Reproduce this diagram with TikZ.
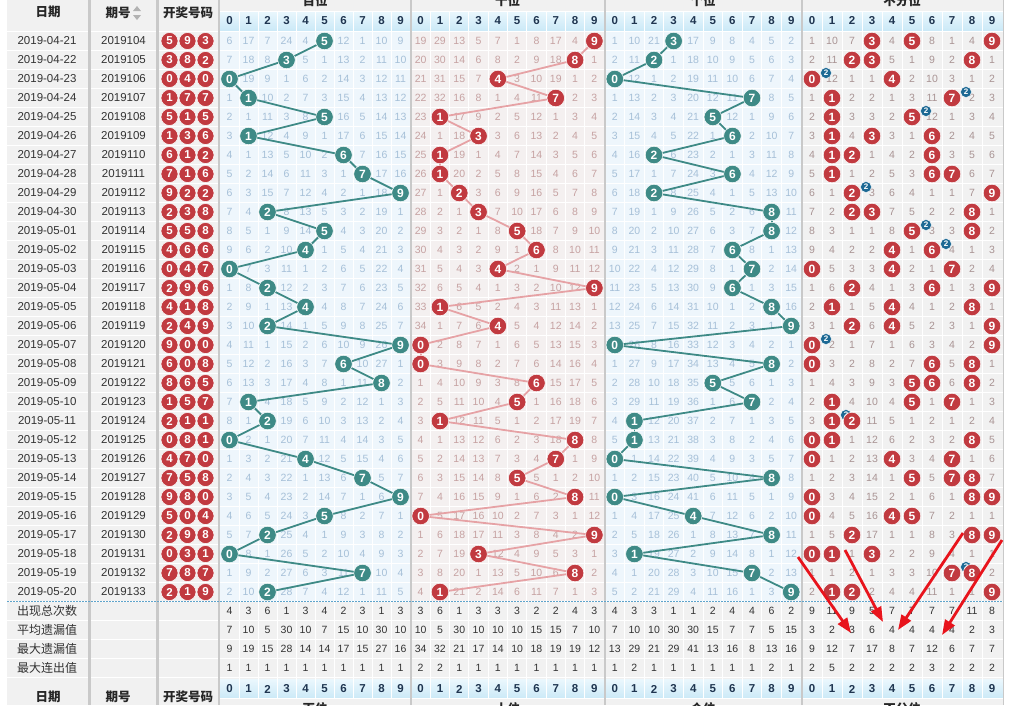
\documentclass[tikz,border=0pt]{standalone}
\usepackage{fontspec}
\setmainfont{Liberation Sans}
\newfontfamily\cjk{Noto Sans CJK SC}
\usetikzlibrary{arrows.meta}

\definecolor{tealBall}{HTML}{3E8A86}
\definecolor{redBall}{HTML}{C13A40}
\definecolor{pinkLine}{HTML}{E6A2A5}
\definecolor{blueCell}{HTML}{EEF6FC}
\definecolor{pinkCell}{HTML}{F4F0F0}
\definecolor{grayCell}{HTML}{F1F1F1}
\definecolor{blueNum}{HTML}{A6C0D8}
\definecolor{pinkNum}{HTML}{C6A2A2}
\definecolor{grayNum}{HTML}{A99494}
\definecolor{headTop}{HTML}{EAF7FD}
\definecolor{headBot}{HTML}{CBE9F7}
\definecolor{headDigit}{HTML}{1F3550}
\definecolor{sepGray}{HTML}{C9C9C9}
\definecolor{badgeBlue}{HTML}{1D6994}
\definecolor{dotBlue}{HTML}{5FA4CB}
\definecolor{noteRed}{HTML}{E8141C}

% trekkingen: honderdtal/tiental/eenheid/datum
\def\draws{
    5/9/3/04-21, 3/8/2/04-22, 0/4/0/04-23, 1/7/7/04-24, 5/1/5/04-25,
    1/3/6/04-26, 6/1/2/04-27, 7/1/6/04-28, 9/2/2/04-29, 2/3/8/04-30,
    5/5/8/05-01, 4/6/6/05-02, 0/4/7/05-03, 2/9/6/05-04, 4/1/8/05-05,
    2/4/9/05-06, 9/0/0/05-07, 6/0/8/05-08, 8/6/5/05-09, 1/5/7/05-10,
    2/1/1/05-11, 0/8/1/05-12, 4/7/0/05-13, 7/5/8/05-14, 9/8/0/05-15,
    5/0/4/05-16, 2/9/8/05-17, 0/3/1/05-18, 7/8/7/05-19, 2/1/9/05-20}

\begin{document}
\begin{tikzpicture}[
        x = 1pt, y = -1pt,
        ball/.style = {
            circle, inner sep = 0pt,
            minimum size = 17.5pt,
            draw = white, line width = 0.5pt,
            text = white,
            font = \bfseries\fontsize{12}{12}\selectfont,
        },
        drawn/.style = {
            ball, fill = redBall,
            minimum size = 17pt,
            font = \bfseries\fontsize{11.5}{11.5}\selectfont,
        },
        badge/.style = {
            circle, inner sep = 0pt,
            minimum size = 11pt,
            fill = badgeBlue, draw = white, line width = 0.4pt,
            text = white,
            font = \bfseries\fontsize{8}{8}\selectfont,
        },
        miss/.style = {inner sep = 0pt, font = \fontsize{10.5}{10.5}\selectfont},
        cell/.style = {inner sep = 0pt, text = black!80, font = \fontsize{10.5}{10.5}\selectfont},
        datecell/.style = {cell, font = \fontsize{11.5}{11.5}\selectfont},
        head/.style = {inner sep = 0pt, text = black!85, font = \cjk\bfseries\fontsize{12.5}{12.5}\selectfont},
        rowlabel/.style = {inner sep = 0pt, text = black!80, font = \cjk\fontsize{12}{12}\selectfont},
        digit/.style = {inner sep = 0pt, text = headDigit, font = \bfseries\fontsize{11.5}{11.5}\selectfont},
        trendline/.style = {line width = 1.8pt},
        note/.style = {draw = noteRed, line width = 2.8pt, -{Triangle[length = 15pt, width = 11pt]}},
    ]
    \useasboundingbox (0,0) rectangle (1011,705);

    % Achtergrond
    \fill[white] (0,0) rectangle (1011,705);
    \fill[grayCell] (7,0) rectangle (1003,705);
    \shade[top color = headTop, bottom color = headBot] (219,11) rectangle (1003,30.5);
    \shade[top color = headTop, bottom color = headBot] (219,679.5) rectangle (1003,698.5);
    \fill[blueCell] (219,31.5) rectangle (410,601.5);
    \fill[pinkCell] (410,31.5) rectangle (604,601.5);
    \fill[blueCell] (604,31.5) rectangle (801,601.5);
    \foreach \k in {0,...,34}
        \draw[white, line width = 1pt] (7,31.5+19*\k) -- (1003,31.5+19*\k);
    \draw[white, line width = 1pt] (219,11) -- (1003,11);
    \draw[white, line width = 1pt] (219,698.5) -- (1003,698.5);
    \foreach \xs/\w in {220/19, 411/19.3, 605/19.6, 802/20}
        \foreach \j in {1,...,9}
            \draw[white, line width = 1pt] ({\xs+\j*\w},11) -- ({\xs+\j*\w},698.5);
    \foreach \xl/\lw in {89.5/3, 157/3, 219/2.5, 410.5/2, 604.5/2, 801.5/2, 1003/1}
        \draw[sepGray, line width = \lw pt] (\xl,0) -- (\xl,705);
    \draw[dotBlue, line width = 1.8pt, dash pattern = on 1.8pt off 1.2pt] (7,601.5) -- (1003,601.5);

    % Kop
    \node[head] (hdate) at (48,12) {日期};
    \node[head] (hissue) at (118,13) {期号};
    \fill[black!30] (133,11) -- (141,11) -- (137,6) -- cycle;
    \fill[black!30] (133,15) -- (141,15) -- (137,20) -- cycle;
    \node[head] (hwin) at (188,13) {开奖号码};
    \node[head] (fdate) at (48,697) {日期};
    \node[head] (fissue) at (118,697) {期号};
    \node[head] (fwin) at (188,697) {开奖号码};
    \foreach \ttl/\xm in {百位/315, 十位/507.5, 个位/703, 不分位/902} {
        \node[head] at (\xm,1) {\ttl};
        \node[head] at (\xm,709) {\ttl};
    }
    \foreach \xs/\w in {220/19, 411/19.3, 605/19.6, 802/20}
        \foreach \dg in {0,...,9} {
            \node[digit] at ({\xs+(\dg+0.5)*\w},20.5) {\dg};
            \node[digit] at ({\xs+(\dg+0.5)*\w},689) {\dg};
        }

    % Beginstand van de missers
    \foreach \val [count=\i from 0] in {5,16,6,23,3,0,11,0,9,8}
        {\expandafter\xdef\csname mA\i\endcsname{\val}}
    \foreach \val [count=\i from 0] in {18,28,12,4,6,0,7,16,3,0}
        {\expandafter\xdef\csname mB\i\endcsname{\val}}
    \foreach \val [count=\i from 0] in {0,9,20,0,16,8,7,3,4,1}
        {\expandafter\xdef\csname mC\i\endcsname{\val}}
    \foreach \val [count=\i from 0] in {0,9,6,0,3,0,7,0,3,0}
        {\expandafter\xdef\csname mD\i\endcsname{\val}}

    % Missers per rij
    \foreach \hun/\ten/\one/\dt [count=\row] in \draws {
        \pgfmathsetmacro\y{22+19*\row}
        \edef\iss{\the\numexpr2019103+\row\relax}
        \node[datecell] (date-\row) at (47,\y) {2019-\dt};
        \node[datecell] (issue-\row) at (123.5,\y) {\iss};
        \foreach \blk/\hit/\xs/\w/\nc in {
            A/\hun/220/19/blueNum,
            B/\ten/411/19.3/pinkNum,
            C/\one/605/19.6/blueNum} {
            \foreach \dg in {0,...,9} {
                \pgfmathsetmacro\cx{\xs+(\dg+0.5)*\w}
                \ifnum\dg=\hit\relax
                    \coordinate (\blk-\row) at (\cx,\y);
                    \expandafter\xdef\csname m\blk\dg\endcsname{0}
                \else
                    \pgfmathtruncatemacro\val{\csname m\blk\dg\endcsname+1}
                    \expandafter\xdef\csname m\blk\dg\endcsname{\val}
                    \node[miss, text = \nc] at (\cx,\y) {\val};
                \fi
            }
        }
        \foreach \dg in {0,...,9} {
            \pgfmathsetmacro\cx{802+(\dg+0.5)*20}
            \pgfmathtruncatemacro\nk{(\dg==\hun)+(\dg==\ten)+(\dg==\one)}
            \ifnum\nk>0
                \coordinate (D-\row-\dg) at (\cx,\y);
                \expandafter\xdef\csname mD\dg\endcsname{0}
            \else
                \pgfmathtruncatemacro\val{\csname mD\dg\endcsname+1}
                \expandafter\xdef\csname mD\dg\endcsname{\val}
                \node[miss, text = grayNum] at (\cx,\y) {\val};
            \fi
        }
    }

    % Trendlijnen
    \foreach \row in {2,...,30} {
        \pgfmathtruncatemacro\pr{\row-1}
        \draw[trendline, tealBall] (A-\pr) -- (A-\row);
        \draw[trendline, pinkLine] (B-\pr) -- (B-\row);
        \draw[trendline, tealBall] (C-\pr) -- (C-\row);
    }

    % Ballen
    \foreach \hun/\ten/\one/\dt [count=\row] in \draws {
        \pgfmathsetmacro\y{22+19*\row}
        \node[drawn] (win-\row-1) at (169.5,\y) {\hun};
        \node[drawn] (win-\row-2) at (187.5,\y) {\ten};
        \node[drawn] (win-\row-3) at (205.5,\y) {\one};
        \node[ball, fill = tealBall] (hunBall-\row) at (A-\row) {\hun};
        \node[ball, fill = redBall] (tenBall-\row) at (B-\row) {\ten};
        \node[ball, fill = tealBall] (oneBall-\row) at (C-\row) {\one};
        \foreach \dg in {0,...,9} {
            \pgfmathtruncatemacro\nk{(\dg==\hun)+(\dg==\ten)+(\dg==\one)}
            \ifnum\nk>0
                \node[ball, fill = redBall] (anyBall-\row-\dg) at (D-\row-\dg) {\dg};
                \ifnum\nk>1
                    \node[badge] (dup-\row) at ([shift = {(14,-6)}] D-\row-\dg) {\nk};
                \fi
            \fi
        }
    }

    % Statistieken
    \foreach \lab/\vals [count=\s] in {
        出现总次数/{4,3,6,1,3,4,2,3,1,3, 3,6,1,3,3,3,2,2,4,3, 4,3,3,1,1,2,4,4,6,2, 9,11,9,5,7,7,7,7,11,8},
        平均遗漏值/{7,10,5,30,10,7,15,10,30,10, 10,5,30,10,10,10,15,15,7,10, 7,10,10,30,30,15,7,7,5,15, 3,2,3,6,4,4,4,4,2,3},
        最大遗漏值/{9,19,15,28,14,14,17,15,27,16, 34,32,21,17,14,10,18,19,19,12, 13,29,21,29,41,13,16,8,13,16, 9,12,7,17,8,7,12,6,7,7},
        最大连出值/{1,1,1,1,1,1,1,1,1,1, 2,2,1,1,1,1,1,1,1,1, 1,2,1,1,1,1,1,1,2,1, 2,5,2,2,2,2,3,2,2,2}} {
        \pgfmathsetmacro\y{22+19*(30+\s)}
        \node[rowlabel] (stat-\s) at (47,\y) {\lab};
        \foreach \val [count=\nn from 0] in \vals {
            \pgfmathtruncatemacro\bk{int(\nn/10)}
            \pgfmathtruncatemacro\dg{mod(\nn,10)}
            \pgfmathsetmacro\cx{{220,411,605,802}[\bk]+{19,19.3,19.6,20}[\bk]*(\dg+0.5)}
            \node[cell] (stat-\s-\nn) at (\cx,\y) {\val};
        }
    }

    % Pijlen
    \coordinate (n1a) at (798,557);
    \coordinate (n1b) at (851,633);
    \coordinate (n2a) at (845,550);
    \coordinate (n2b) at (883,622);
    \coordinate (n3a) at (963,533);
    \coordinate (n3b) at (898,630);
    \coordinate (n4a) at (1002,540);
    \coordinate (n4b) at (942,635);
    \draw[note] (n1a) -- (n1b);
    \draw[note] (n2a) -- (n2b);
    \draw[note] (n3a) -- (n3b);
    \draw[note] (n4a) -- (n4b);
\end{tikzpicture}
\end{document}
